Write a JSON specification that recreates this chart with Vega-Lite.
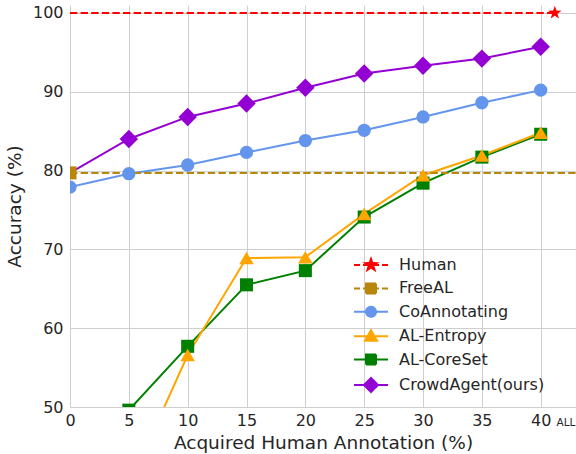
{
  "$schema": "https://vega.github.io/schema/vega-lite/v6.json",
  "width": 506,
  "height": 402,
  "padding": {"left": 70, "top": 5, "right": 0, "bottom": 47},
  "autosize": {"type": "none"},
  "background": "white",
  "config": {
    "view": {"stroke": null},
    "font": "DejaVu Sans",
    "axis": {
      "domain": false,
      "ticks": false,
      "grid": true,
      "gridColor": "#cfcfcf",
      "gridWidth": 1,
      "labelFont": "DejaVu Sans",
      "labelFontSize": 16,
      "labelColor": "#262626",
      "titleFont": "DejaVu Sans",
      "titleFontSize": 18.5,
      "titleFontWeight": "normal",
      "titleColor": "#262626"
    },
    "legend": {
      "labelFont": "DejaVu Sans",
      "labelFontSize": 16,
      "labelColor": "#262626"
    }
  },
  "data": {
    "values": [
      {"series": "CrowdAgent(ours)", "x": 0, "y": 79.7},
      {"series": "CrowdAgent(ours)", "x": 5, "y": 84.0},
      {"series": "CrowdAgent(ours)", "x": 10, "y": 86.8},
      {"series": "CrowdAgent(ours)", "x": 15, "y": 88.5},
      {"series": "CrowdAgent(ours)", "x": 20, "y": 90.5},
      {"series": "CrowdAgent(ours)", "x": 25, "y": 92.3},
      {"series": "CrowdAgent(ours)", "x": 30, "y": 93.3},
      {"series": "CrowdAgent(ours)", "x": 35, "y": 94.2},
      {"series": "CrowdAgent(ours)", "x": 40, "y": 95.7},
      {"series": "CoAnnotating", "x": 0, "y": 77.9},
      {"series": "CoAnnotating", "x": 5, "y": 79.6},
      {"series": "CoAnnotating", "x": 10, "y": 80.7},
      {"series": "CoAnnotating", "x": 15, "y": 82.3},
      {"series": "CoAnnotating", "x": 20, "y": 83.8},
      {"series": "CoAnnotating", "x": 25, "y": 85.1},
      {"series": "CoAnnotating", "x": 30, "y": 86.8},
      {"series": "CoAnnotating", "x": 35, "y": 88.6},
      {"series": "CoAnnotating", "x": 40, "y": 90.2},
      {"series": "AL-CoreSet", "x": 5, "y": 49.6},
      {"series": "AL-CoreSet", "x": 10, "y": 57.7},
      {"series": "AL-CoreSet", "x": 15, "y": 65.5},
      {"series": "AL-CoreSet", "x": 20, "y": 67.3},
      {"series": "AL-CoreSet", "x": 25, "y": 74.1},
      {"series": "AL-CoreSet", "x": 30, "y": 78.4},
      {"series": "AL-CoreSet", "x": 35, "y": 81.7},
      {"series": "AL-CoreSet", "x": 40, "y": 84.6},
      {"series": "AL-Entropy", "x": 5, "y": 40.0},
      {"series": "AL-Entropy", "x": 10, "y": 56.6},
      {"series": "AL-Entropy", "x": 15, "y": 68.9},
      {"series": "AL-Entropy", "x": 20, "y": 69.0},
      {"series": "AL-Entropy", "x": 25, "y": 74.5},
      {"series": "AL-Entropy", "x": 30, "y": 79.4},
      {"series": "AL-Entropy", "x": 35, "y": 81.9},
      {"series": "AL-Entropy", "x": 40, "y": 84.8},
      {"series": "FreeAL", "x": 0, "y": 79.7},
      {"series": "FreeAL", "x": 43, "y": 79.7},
      {"series": "Human", "x": 0, "y": 100},
      {"series": "Human", "x": 41.2, "y": 100}
    ]
  },
  "encoding": {
    "x": {
      "field": "x",
      "type": "quantitative",
      "scale": {"domain": [0, 43], "nice": false, "zero": false},
      "axis": {
        "title": "Acquired Human Annotation (%)",
        "values": [0, 5, 10, 15, 20, 25, 30, 35, 40, 42.1],
        "labelExpr": "datum.value > 41 ? 'ALL' : datum.label",
        "labelFontSize": {"condition": {"test": "datum.value > 41", "value": 10.5}, "value": 16},
        "gridOpacity": {"condition": {"test": "datum.value > 41", "value": 0}, "value": 1},
        "labelFlush": false,
        "labelBound": false,
        "labelOverlap": false,
        "labelBaseline": "alphabetic",
        "labelPadding": 18,
        "titlePadding": 5
      }
    },
    "y": {
      "field": "y",
      "type": "quantitative",
      "scale": {"domain": [50, 101], "nice": false, "zero": false},
      "axis": {
        "title": "Accuracy (%)",
        "values": [50, 60, 70, 80, 90, 100],
        "labelPadding": 7,
        "titlePadding": 8
      }
    },
    "color": {
      "field": "series",
      "type": "nominal",
      "scale": {
        "domain": ["Human", "FreeAL", "CoAnnotating", "AL-Entropy", "AL-CoreSet", "CrowdAgent(ours)"],
        "range": ["#ff0000", "#b8860b", "#6495ed", "#ffa500", "#008000", "#9400d3"]
      },
      "legend": {
        "title": null,
        "orient": "none",
        "legendX": 293,
        "legendY": 252,
        "symbolSize": 4,
        "labelOffset": 20,
        "rowPadding": 5.4,
        "encode": {
          "symbols": {
            "update": {
              "size": {"value": 4},
              "strokeWidth": {"value": 2},
              "opacity": {"value": 1},
              "strokeDash": {"value": [1, 0]},
              "fill": {"signal": "scale('color', datum.value)"},
              "stroke": {"signal": "scale('color', datum.value)"},
              "shape": {"signal": "datum.value === 'Human' ? 'M-17,0H-11M-8,0H-2M2,0H8M11,0H17M0,-6L1.41,-1.94L5.71,-1.85L2.28,0.74L3.53,4.85L0,2.4L-3.53,4.85L-2.28,0.74L-5.71,-1.85L-1.41,-1.94Z' : datum.value === 'FreeAL' ? 'M-17,0H-11M-8,0H-2M2,0H8M11,0H17M-5,-5H5V5H-5Z' : datum.value === 'CoAnnotating' ? 'M-17,0H17M5,0A5,5,0,1,1,-5,0A5,5,0,1,1,5,0Z' : datum.value === 'AL-Entropy' ? 'M-17,0H17M0,-6L6,4.5H-6Z' : datum.value === 'AL-CoreSet' ? 'M-17,0H17M-5,-5H5V5H-5Z' : 'M-17,0H17M0,-7L7,0L0,7L-7,0Z'"}
            }
          }
        }
      }
    }
  },
  "layer": [
    {
      "transform": [{"filter": "datum.series !== 'Human' && datum.series !== 'FreeAL'"}],
      "mark": {"type": "line", "strokeWidth": 2, "clip": true}
    },
    {
      "transform": [{"filter": "datum.series === 'Human' || datum.series === 'FreeAL'"}],
      "mark": {"type": "line", "strokeWidth": 2, "clip": true, "strokeDash": [7.4, 3.2]}
    },
    {
      "transform": [{"filter": "datum.series === 'CrowdAgent(ours)' && datum.x > 0"}],
      "mark": {"type": "point", "filled": true, "opacity": 1, "clip": true, "strokeWidth": 0, "shape": "diamond", "size": 340}
    },
    {
      "transform": [{"filter": "datum.series === 'CoAnnotating'"}],
      "mark": {"type": "point", "filled": true, "opacity": 1, "clip": true, "strokeWidth": 0, "shape": "circle", "size": 177}
    },
    {
      "transform": [{"filter": "datum.series === 'AL-CoreSet'"}],
      "mark": {"type": "point", "filled": true, "opacity": 1, "clip": true, "strokeWidth": 0, "shape": "square", "size": 170}
    },
    {
      "transform": [{"filter": "datum.series === 'AL-Entropy'"}],
      "mark": {"type": "point", "filled": true, "opacity": 1, "clip": true, "strokeWidth": 0, "shape": "triangle-up", "size": 210}
    },
    {
      "transform": [{"filter": "datum.series === 'FreeAL' && datum.x === 0"}],
      "mark": {"type": "point", "filled": true, "opacity": 1, "clip": true, "strokeWidth": 0, "shape": "square", "size": 170}
    },
    {
      "transform": [{"filter": "datum.series === 'Human' && datum.x > 41"}],
      "mark": {"type": "point", "filled": true, "opacity": 1, "clip": true, "strokeWidth": 0, "size": 200, "shape": "M0,-1L0.235,-0.324L0.951,-0.309L0.38,0.124L0.588,0.809L0,0.4L-0.588,0.809L-0.38,0.124L-0.951,-0.309L-0.235,-0.324Z"}
    }
  ]
}
